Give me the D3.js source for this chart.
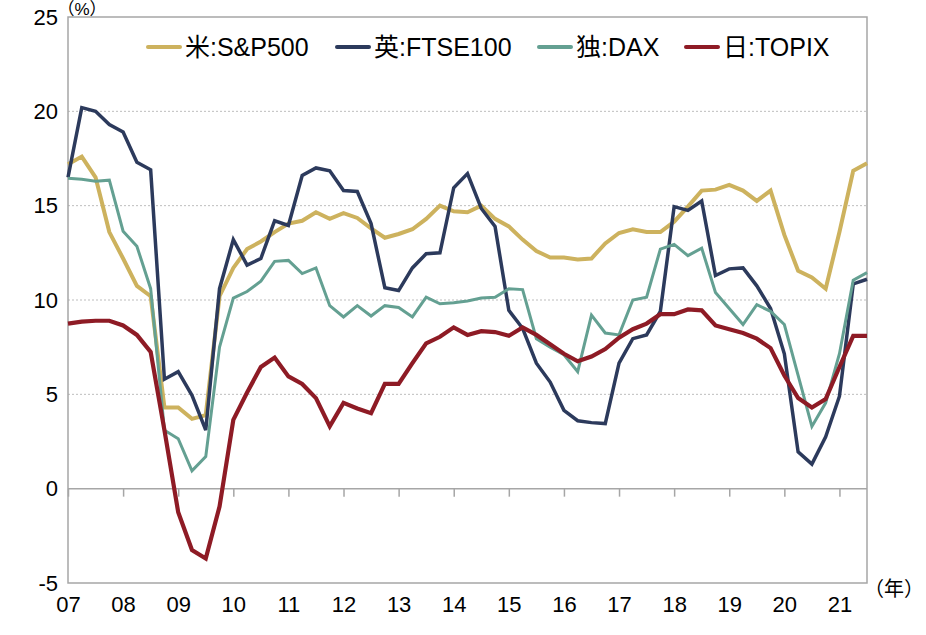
<!DOCTYPE html>
<html>
<head>
<meta charset="utf-8">
<script src="https://cdn.jsdelivr.net/npm/d3@7"></script>
<style>
  html, body { margin: 0; padding: 0; background: #fff; }
  svg text { font-family: "Liberation Sans", Arial, "Noto Sans CJK JP", sans-serif; fill: #000; }
</style>
</head>
<body>
<svg id="chart" width="926" height="635"></svg>
<script>
// ---- data (quarterly, 2007Q1 .. 2021Q3) ----
const startYear = 2007;
const yearTicks = ["07","08","09","10","11","12","13","14","15","16","17","18","19","20","21"];
const yTicks = [-5, 0, 5, 10, 15, 20, 25];
const yTickLabels = ["-5", "0", "5", "10", "15", "20", "25"];

const sp500 = [17.2, 17.6, 16.5, 13.6, 12.2, 10.75, 10.2, 4.3, 4.3, 3.7,
  3.9, 10.2, 11.7, 12.7, 13.1, 13.6, 14.05, 14.2, 14.65, 14.3,
  14.6, 14.35, 13.8, 13.3, 13.5, 13.75, 14.3, 15.0, 14.7, 14.65,
  15.0, 14.3, 13.9, 13.2, 12.6, 12.25, 12.25, 12.15, 12.2, 13.0,
  13.55, 13.75, 13.6, 13.6, 14.15, 14.95, 15.8, 15.85, 16.1, 15.8,
  15.25, 15.8, 13.45, 11.55, 11.2, 10.6, 13.6, 16.85, 17.25];
const ftse100 = [16.5, 20.2, 20.0, 19.3, 18.9, 17.3, 16.9, 5.8, 6.2, 4.95,
  3.1, 10.6, 13.2, 11.85, 12.2, 14.2, 13.95, 16.6, 17.0, 16.85,
  15.8, 15.75, 14.05, 10.65, 10.5, 11.7, 12.45, 12.5, 15.95, 16.7,
  14.85, 13.9, 9.45, 8.5, 6.65, 5.65, 4.15, 3.6, 3.5, 3.45,
  6.65, 7.95, 8.15, 9.4, 14.95, 14.75, 15.25, 11.3, 11.65, 11.7,
  10.75, 9.55, 7.15, 1.95, 1.3, 2.75, 4.9, 10.85, 11.1];
const dax = [16.45, 16.4, 16.3, 16.35, 13.65, 12.85, 10.6, 3.1, 2.65, 0.95,
  1.7, 7.5, 10.1, 10.45, 11.0, 12.05, 12.1, 11.4, 11.7, 9.7,
  9.1, 9.7, 9.15, 9.7, 9.6, 9.1, 10.15, 9.8, 9.85, 9.95,
  10.1, 10.15, 10.6, 10.55, 7.95, 7.5, 7.1, 6.2, 9.2, 8.25,
  8.15, 10.0, 10.15, 12.7, 12.95, 12.35, 12.75, 10.4, 9.55, 8.7,
  9.75, 9.4, 8.7, 6.0, 3.3, 4.55, 7.15, 11.05, 11.45];
const topix = [8.75, 8.85, 8.9, 8.9, 8.65, 8.15, 7.25, 3.1, -1.25, -3.25,
  -3.7, -0.95, 3.65, 5.1, 6.45, 6.95, 5.95, 5.55, 4.8, 3.3,
  4.55, 4.25, 4.0, 5.55, 5.55, 6.65, 7.7, 8.05, 8.55, 8.15,
  8.35, 8.3, 8.1, 8.55, 8.15, 7.65, 7.15, 6.75, 7.0, 7.4,
  8.0, 8.45, 8.75, 9.25, 9.25, 9.5, 9.45, 8.65, 8.45, 8.25,
  7.95, 7.45, 6.0, 4.8, 4.3, 4.75, 6.45, 8.1, 8.1];

const seriesNames = ["米:S&P500", "英:FTSE100", "独:DAX", "日:TOPIX"];
const seriesColors = ["#CDB25E", "#2C3A5C", "#64A092", "#8E1B25"];
const seriesWidths = [4, 3.5, 3, 4.2];
const seriesData = [sp500, ftse100, dax, topix];

// ---- layout ----
const svg = d3.select("#chart");
const L = 68, R = 867, T = 17, B = 583;

const x = d3.scaleLinear().domain([startYear, startYear + 14.5]).range([L, R]);
const y = d3.scaleLinear().domain([-5, 25]).range([B, T]);
const tAt = i => startYear + i * 0.25;

// gridlines (dotted)
svg.append("g").selectAll("line")
  .data(yTicks.filter(v => v !== 0 && v !== -5 && v !== 25))
  .join("line")
  .attr("x1", L).attr("x2", R)
  .attr("y1", d => y(d)).attr("y2", d => y(d))
  .attr("stroke", "#BDBDBD").attr("stroke-width", 1)
  .attr("stroke-dasharray", "2,2");

// frame
svg.append("rect").attr("x", L).attr("y", T).attr("width", R - L).attr("height", B - T)
  .attr("fill", "none").attr("stroke", "#A6A6A6").attr("stroke-width", 1.5);

// zero axis with ticks
const zeroAxis = d3.axisBottom(x)
  .tickValues(d3.range(0, yearTicks.length).map(i => startYear + i))
  .tickSize(8).tickFormat("");
const zg = svg.append("g").attr("transform", `translate(0,${y(0)})`).call(zeroAxis);
zg.select(".domain").attr("stroke", "#A6A6A6").attr("stroke-width", 1.5).attr("d", `M${L},0H${R}`);
zg.selectAll(".tick line").attr("stroke", "#A6A6A6").attr("stroke-width", 1.5);

// x labels
const xLab = d3.axisBottom(x)
  .tickValues(d3.range(0, yearTicks.length).map(i => startYear + i))
  .tickSize(0).tickPadding(0)
  .tickFormat((d, i) => yearTicks[i]);
const xg = svg.append("g").attr("transform", `translate(0,${B + 13})`).call(xLab);
xg.select(".domain").remove();
xg.selectAll("text").attr("font-size", 22).attr("fill", "#000")
  .style("font-family", '"Liberation Sans", Arial, sans-serif');

// y labels
const yAx = d3.axisLeft(y).tickValues(yTicks).tickSize(0).tickPadding(10)
  .tickFormat((d, i) => yTickLabels[i]);
const yg = svg.append("g").attr("transform", `translate(${L},0)`).call(yAx);
yg.select(".domain").remove();
yg.selectAll("text").attr("font-size", 22).attr("fill", "#000")
  .style("font-family", '"Liberation Sans", Arial, sans-serif');

// unit labels
svg.append("text").attr("x", 82).attr("y", 15).attr("text-anchor", "middle")
  .attr("font-size", 17).text("（%）");
svg.append("text").attr("x", 894).attr("y", 596).attr("text-anchor", "middle")
  .attr("font-size", 20).text("（年）");

// lines
const line = d3.line().x((d, i) => x(tAt(i))).y(d => y(d)).curve(d3.curveLinear);
svg.append("g").selectAll("path")
  .data(seriesData)
  .join("path")
  .attr("d", d => line(d))
  .attr("fill", "none")
  .attr("stroke", (d, i) => seriesColors[i])
  .attr("stroke-width", (d, i) => seriesWidths[i])
  .attr("stroke-linejoin", "miter")
  .attr("stroke-linecap", "butt");

// legend
const legendX = [148, 337, 539, 686];
const lg = svg.append("g");
seriesNames.forEach((name, i) => {
  const g = lg.append("g").attr("transform", `translate(${legendX[i]},47)`);
  g.append("line").attr("x1", 0).attr("x2", 32).attr("y1", 0).attr("y2", 0)
    .attr("stroke", seriesColors[i]).attr("stroke-width", 4).attr("stroke-linecap", "round");
  g.append("text").attr("x", 37).attr("y", 9).attr("font-size", 25).text(name);
});
</script>
</body>
</html>
